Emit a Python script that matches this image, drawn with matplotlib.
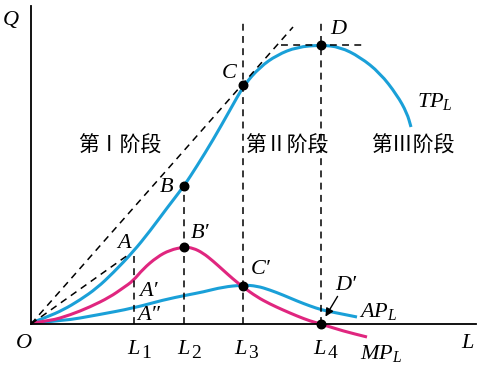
import matplotlib
matplotlib.use("Agg")
import matplotlib.pyplot as plt
from matplotlib.path import Path
from matplotlib.patches import PathPatch

plt.rcParams['mathtext.fontset'] = 'custom'
plt.rcParams['mathtext.it'] = 'Liberation Serif:italic'
plt.rcParams['mathtext.rm'] = 'Liberation Serif'

# Coordinates: L to the right of origin, Q above origin (schematic units)
OX, OY = 31, 324  # origin in reference pixels (used only to convert read points)

def cv(pts):
    return [p[0] - OX for p in pts], [OY - p[1] for p in pts]

# Total product curve
tp_pts = [(31, 323), (47, 317), (63, 310), (80, 300), (97, 288), (113, 273),
          (133, 252), (150, 231), (167, 208), (184, 186), (197, 166), (213, 140),
          (230, 110), (244, 85), (260, 67), (277, 55), (297, 47), (321, 45),
          (340, 47), (360, 57), (380, 73), (397, 95), (407, 113), (411, 127)]
# Marginal product curve
mp_pts = [(31, 323), (50, 321), (70, 315), (90, 307), (110, 297), (123, 288),
          (133, 281), (143, 269), (157, 257), (170, 250), (184, 247), (193, 248),
          (203, 253), (213, 261), (223, 270), (233, 279), (243, 287), (257, 297),
          (270, 304), (283, 310), (297, 316), (310, 321), (321, 324), (343, 331),
          (367, 337)]
# Average product curve
ap_pts = [(31, 323), (63, 321), (97, 315), (134, 308), (163, 300), (187, 295),
          (203, 292), (223, 287), (243, 285), (257, 286), (270, 290), (283, 295),
          (297, 301), (310, 306), (322, 310), (337, 313), (357, 317)]

tp_L, tp_Q = cv(tp_pts)
mp_L, mp_Q = cv(mp_pts)
ap_L, ap_Q = cv(ap_pts)

# Key labour levels and points
L1, L2, L3, L4 = 134 - OX, 184 - OX, 243 - OX, 321 - OX
A_Q, B_Q, C_Q, D_Q = OY - 251, OY - 186, OY - 85, OY - 45
Bp_Q, Cp_Q = OY - 247, OY - 286
top_Q = OY - 20

BLUE = '#1aa0d8'
PINK = '#e0267f'

fig = plt.figure(figsize=(4.86, 3.73), dpi=100)
ax = fig.add_axes([0, 0, 1, 1])
ax.set_xlim(-OX, 486 - OX)
ax.set_ylim(OY - 373, OY)
ax.axis('off')

# axes
ax.plot([0, 0], [0, OY - 6], color='black', lw=1.3)
ax.plot([0, 476 - OX], [0, 0], color='black', lw=1.3)

dash = dict(color='black', lw=1.1, ls=(0, (4.5, 3.5)))
# vertical guides
ax.plot([L1, L1], [0, A_Q], **dash)
ax.plot([L2, L2], [0, B_Q], **dash)
ax.plot([L3, L3], [0, top_Q], **dash)
ax.plot([L4, L4], [0, top_Q], **dash)
# rays from origin
ax.plot([0, 128 - OX], [0, OY - 255], **dash)
ax.plot([0, 293 - OX], [0, OY - 27], **dash)
# horizontal tangent at D
ax.plot([281 - OX, 366 - OX], [D_Q, D_Q], **dash)


def smooth_curve(xs, ys, color):
    """Draw a smooth curve using the read points as quadratic Bezier controls."""
    verts = [(xs[0], ys[0])]
    codes = [Path.MOVETO]
    n = len(xs)
    for i in range(1, n - 1):
        mid = ((xs[i] + xs[i + 1]) / 2, (ys[i] + ys[i + 1]) / 2)
        verts += [(xs[i], ys[i]), mid]
        codes += [Path.CURVE3, Path.CURVE3]
    verts.append((xs[-1], ys[-1]))
    codes.append(Path.LINETO)
    ax.add_patch(PathPatch(Path(verts, codes), facecolor='none',
                           edgecolor=color, lw=2.2, capstyle='butt'))


smooth_curve(tp_L, tp_Q, BLUE)
smooth_curve(ap_L, ap_Q, BLUE)
smooth_curve(mp_L, mp_Q, PINK)

pts_x = [L2, L3, L4, L2, L3, L4]
pts_y = [B_Q, C_Q, D_Q, Bp_Q, Cp_Q, 0]
ax.scatter(pts_x, pts_y, s=38, color='black', zorder=5)

ax.annotate('', xy=(324 - OX, OY - 319), xytext=(339 - OX, OY - 294),
            arrowprops=dict(arrowstyle='-|>', color='black', lw=1.0,
                            mutation_scale=12))

ser = dict(family='Liberation Serif', style='italic', fontsize=16,
           ha='center', va='center')
up = dict(family='Liberation Serif', fontsize=14, ha='center', va='center')

def T(px, py, s, **kw):
    ax.text(px - OX, OY - py, s, **kw)

T(11, 20, 'Q', **ser)
T(24, 343, 'O', **ser)
T(467, 343, 'L', **ser)
T(124, 243, 'A', **ser)
T(167, 187, 'B', **ser)
T(229, 74, 'C', **ser)
T(338, 30, 'D', **ser)
T(148, 291, "A\u2032", **ser)
T(149, 315, "A\u2033", **ser)
T(200, 233, "B\u2032", **ser)
T(261, 270, "C\u2032", **ser)
T(346, 285, "D\u2032", **ser)

# L ticks
for lx, num, nx in [(133, '1', 146), (183, '2', 196), (240, '3', 253), (319, '4', 332)]:
    T(lx, 349, 'L', **ser)
    T(nx, 354, num, **up)

T(435, 101, r'$TP_L$', ha='center', va='center', fontsize=16)
T(378, 311, r'$AP_L$', ha='center', va='center', fontsize=16)
T(381, 354, r'$MP_L$', ha='center', va='center', fontsize=16)

cjk = dict(family=['Noto Sans CJK SC', 'DejaVu Sans'], fontsize=15,
           ha='center', va='center')
T(120, 146, '第Ⅰ阶段', **cjk)
T(287, 146, '第Ⅱ阶段', **cjk)
T(413, 146, '第Ⅲ阶段', **cjk)

fig.savefig('out.png', dpi=100)
